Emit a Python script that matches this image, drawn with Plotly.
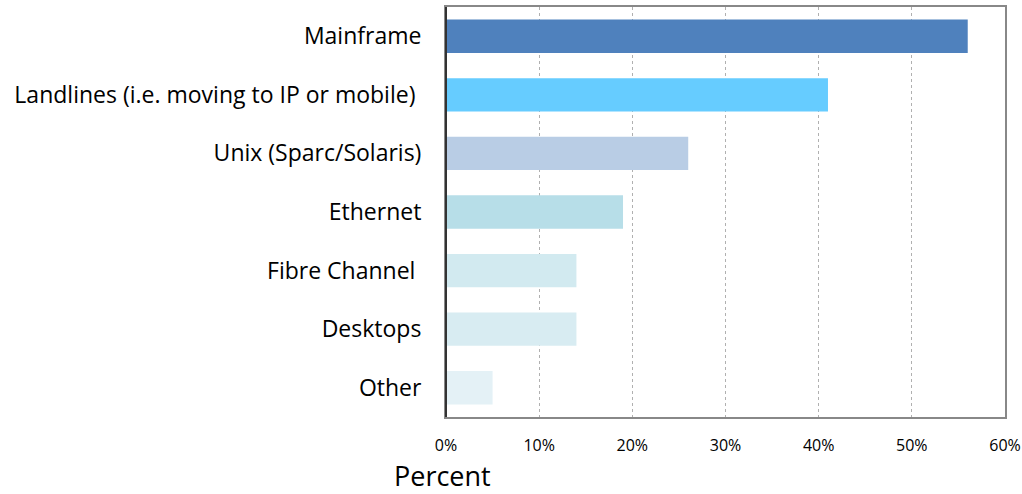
import plotly.graph_objects as go

categories = ["Mainframe", "Landlines (i.e. moving to IP or mobile) ", "Unix (Sparc/Solaris)",
              "Ethernet", "Fibre Channel ", "Desktops", "Other"]
values = [0.56, 0.41, 0.26, 0.19, 0.14, 0.14, 0.05]
colors = ["#4F81BD", "#66CCFF", "#B9CDE5", "#B7DEE8", "#D2EAF0", "#D8ECF2", "#E4F1F6"]
x_ticks = [0, 0.1, 0.2, 0.3, 0.4, 0.5, 0.6]
x_title = "Percent"

FONT = "'Open Sans', sans-serif"

fig = go.Figure(go.Bar(
    y=categories, x=values, orientation="h",
    marker=dict(color=colors, line=dict(width=0)),
    width=0.57,
))

fig.update_layout(
    width=1022, height=494,
    margin=dict(l=446, r=17, t=7, b=77),
    plot_bgcolor="white", paper_bgcolor="white",
    showlegend=False,
    font=dict(family=FONT, color="#000000"),
)
fig.update_xaxes(
    range=[0, 0.6], tickvals=x_ticks, tickformat=".0%",
    showgrid=True, gridcolor="#B0B0B0", griddash="dot", gridwidth=1,
    showline=True, linecolor="#888888", linewidth=2, mirror=True,
    ticks="", tickfont=dict(size=16, family=FONT), ticklabelstandoff=13,
    zeroline=False, automargin=False,
)
fig.update_yaxes(
    categoryorder="array", categoryarray=categories[::-1],
    showline=True, linecolor="#888888", linewidth=2, mirror=True,
    ticks="", tickfont=dict(size=23, family=FONT), ticklabelstandoff=18,
    showgrid=False, automargin=False,
)
fig.add_shape(type="line", xref="paper", yref="paper", x0=0, x1=0, y0=0, y1=1,
              line=dict(color="#333333", width=2))
fig.add_annotation(text=x_title, xref="paper", yref="paper", x=-0.007, y=-0.143,
                   showarrow=False, xanchor="center", yanchor="middle",
                   font=dict(size=27, family=FONT, color="#000000"))

fig.write_html("out.html", config={"displayModeBar": False},
               post_script="document.body.style.margin='0';")
